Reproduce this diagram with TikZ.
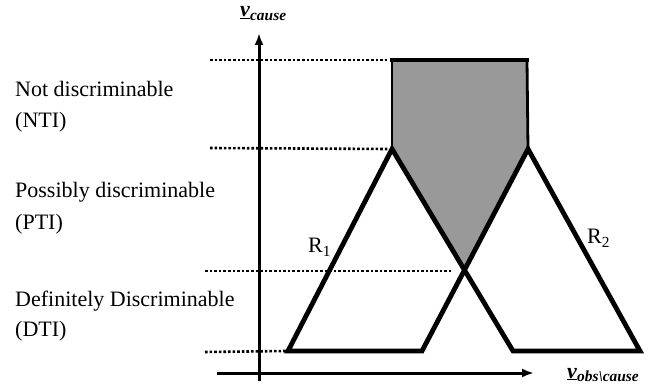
\documentclass[tikz,border=0pt]{standalone}
\usepackage{fontspec}
\setmainfont{Liberation Serif}
\usetikzlibrary{arrows.meta}
\begin{document}
\begin{tikzpicture}[x=1pt,y=-1pt,
  lbl/.style={anchor=base west,inner sep=0pt,font=\fontsize{22}{26}\selectfont},
  guide/.style={line width=2.6pt,dash pattern=on 2.6pt off 2pt},
  edge/.style={line width=4.8pt,line join=miter},
  axis/.style={line width=3pt,-{Latex[length=12pt,width=9pt]}}]
\useasboundingbox (0,0) rectangle (664,387);
% key points
\coordinate (TL) at (392,60);
\coordinate (TR) at (527,60);
\coordinate (A1) at (392,149);
\coordinate (A2) at (528,149);
\coordinate (X) at (463,270);
\coordinate (B1) at (288,351);
\coordinate (B2) at (422,351);
\coordinate (B3) at (513,351);
\coordinate (B4) at (640,351);
% shaded region
\fill[fill=black!40] (TL) -- (TR) -- (A2) -- (X) -- (A1) -- cycle;
\draw[line width=2.8pt] (TL) -- (A1);
\draw[line width=2.8pt] (TR) -- (A2);
\draw[edge,line cap=rect] (TL) -- (TR);
% triangles
\draw[edge] (B2) -- (B1) -- (A1) -- (B3) -- (B4) -- (A2) -- cycle;
% dotted guides
\coordinate (g1) at (210,60);
\coordinate (g2) at (210,148);
\coordinate (g3) at (205,271);
\coordinate (g3e) at (452,271);
\coordinate (g4) at (205,352);
\draw[guide] (g1) -- ([xshift=-3pt]TL);
\draw[guide] (g2) -- ([xshift=-3pt]A1);
\draw[guide] (g3) -- (g3e);
\draw[guide] (g4) -- ([xshift=-2pt]B1);
% axes
\coordinate (yb) at (259,381);
\coordinate (yt) at (259,33);
\coordinate (xl) at (217,373);
\coordinate (xr) at (534,373);
\draw[axis] (yb) -- (yt);
\draw[axis] (xl) -- (xr);
% axis labels
\node[lbl] (vc) at (240,17) {\underline{\textbf{\textit{v}}}\textsubscript{\textbf{\textit{cause}}}};
\node[lbl] (vo) at (567,378) {\underline{\textbf{\textit{v}}}\textsubscript{\textbf{\textit{obs\textbackslash cause}}}};
% region labels
\node[lbl] (r1) at (308,253) {R\textsubscript{1}};
\node[lbl] (r2) at (587,244) {R\textsubscript{2}};
% left texts
\node[lbl] (n1) at (15,97) {Not discriminable};
\node[lbl] (n2) at (15,128) {(NTI)};
\node[lbl] (p1) at (15,198) {Possibly discriminable};
\node[lbl] (p2) at (15,230) {(PTI)};
\node[lbl] (d1) at (15,307) {Definitely Discriminable};
\node[lbl] (d2) at (15,337) {(DTI)};
\end{tikzpicture}
\end{document}
